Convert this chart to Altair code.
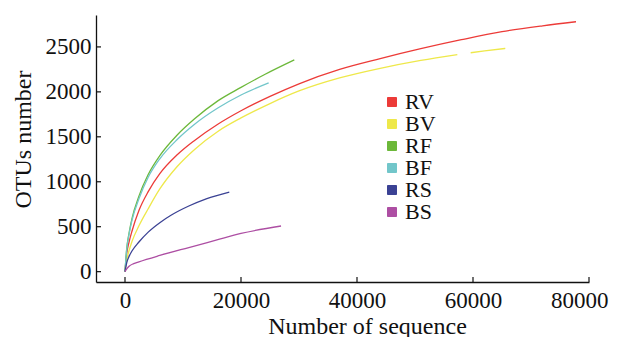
import altair as alt
import pandas as pd

# ---- data ----
series_names = ["RV", "BV", "RF", "BF", "RS", "BS"]
series_colors = ["#ec3b38", "#eee84a", "#6cb83a", "#72c6ca", "#3b4294", "#ad4ea3"]

rv_x = [0, 300, 700, 1200, 2400, 4000, 6000, 9000, 12000, 16000, 20000, 25000, 30000, 37000, 44000, 51000, 58000, 65000, 72000, 77760]
rv_y = [0, 200, 330, 450, 680, 890, 1090, 1300, 1460, 1640, 1790, 1950, 2090, 2250, 2370, 2480, 2580, 2670, 2735, 2780]

bv_x_a = [0, 300, 700, 1200, 2400, 4000, 6000, 9000, 12000, 16000, 20000, 25000, 30000, 37000, 44000, 51000, 57300]
bv_y_a = [0, 130, 235, 335, 510, 700, 920, 1170, 1360, 1560, 1710, 1870, 2010, 2155, 2262, 2350, 2415]
bv_x_b = [59600, 62000, 65570]
bv_y_b = [2435, 2455, 2483]

rf_x = [0, 300, 700, 1200, 2400, 4000, 6000, 9000, 12000, 16000, 20000, 24000, 29190]
rf_y = [0, 260, 430, 590, 840, 1080, 1290, 1520, 1700, 1900, 2050, 2190, 2355]

bf_x = [0, 300, 700, 1200, 2400, 4000, 6000, 9000, 12000, 16000, 20000, 24770]
bf_y = [0, 250, 415, 570, 810, 1050, 1255, 1470, 1640, 1820, 1965, 2100]

rs_x = [0, 300, 700, 1200, 2400, 4000, 6000, 8000, 11000, 14000, 17980]
rs_y = [0, 100, 170, 230, 330, 440, 545, 630, 730, 810, 886]

bs_x = [0, 300, 700, 1500, 2400, 6000, 9600, 11000, 15700, 20000, 26900]
bs_y = [0, 30, 60, 90, 110, 180, 244, 268, 350, 425, 508]

x_ticks = [0, 20000, 40000, 60000, 80000]
y_ticks = [0, 500, 1000, 1500, 2000, 2500]

rows = []
def add(name, seg, xs, ys):
    for a, b in zip(xs, ys):
        rows.append({"series": name, "seg": name + seg, "x": a, "y": b})

add("RV", "1", rv_x, rv_y)
add("BV", "1", bv_x_a, bv_y_a)
add("BV", "2", bv_x_b, bv_y_b)
add("RF", "1", rf_x, rf_y)
add("BF", "1", bf_x, bf_y)
add("RS", "1", rs_x, rs_y)
add("BS", "1", bs_x, bs_y)
df = pd.DataFrame(rows)

W, H = 493, 267
FONT = "Liberation Serif"

xscale = alt.Scale(domain=[-5000, 80000], nice=False, zero=False)
yscale = alt.Scale(domain=[-115, 2855], nice=False, zero=False)
cscale = alt.Scale(domain=series_names, range=series_colors)

x_axis = alt.Axis(title="Number of sequence", values=x_ticks, format="d",
                  grid=False, ticks=False, labelPadding=7,
                  labelFontSize=23, titleFontSize=24, labelFont=FONT, titleFont=FONT,
                  labelColor="#111", titleColor="#111", titleFontWeight="normal",
                  domainColor="#111", domainWidth=1.3,
                  titleX=271, titleY=51, titleBaseline="alphabetic", titleAlign="center",
                  labelFlush=True, labelFlushOffset=19)
y_axis = alt.Axis(title="OTUs number", values=y_ticks, format="d",
                  grid=False, ticks=False, labelPadding=5,
                  labelFontSize=23, titleFontSize=24, labelFont=FONT, titleFont=FONT,
                  labelColor="#111", titleColor="#111", titleFontWeight="normal",
                  domainColor="#111", domainWidth=1.3,
                  titleX=-73, titleY=124, titleAngle=-90, titleBaseline="middle", titleAlign="center",
                  labelFlush=False)

legend_def = alt.Legend(title=None, orient="none", legendX=285, legendY=76,
                        symbolType="square", symbolSize=81, symbolOpacity=1,
                        symbolStrokeColor="#333", symbolStrokeWidth=1,
                        labelFont=FONT, labelFontSize=22, labelColor="#111",
                        labelOffset=2, rowPadding=0)

legend_layer = alt.Chart(df).mark_square(size=0, filled=True).encode(
    x=alt.X("x:Q", scale=xscale, axis=x_axis),
    y=alt.Y("y:Q", scale=yscale, axis=y_axis),
    color=alt.Color("series:N", scale=cscale, legend=legend_def),
)

lines = alt.Chart(df).mark_line(strokeWidth=1.3, interpolate="monotone").encode(
    x=alt.X("x:Q", scale=xscale),
    y=alt.Y("y:Q", scale=yscale),
    color=alt.Color("series:N", scale=cscale),
    detail="seg:N",
    order="x:Q",
)

yt = pd.DataFrame({"y": y_ticks})
xt = pd.DataFrame({"x": x_ticks})

ytick_layer = alt.Chart(yt).mark_rule(color="#111", strokeWidth=1.2).encode(
    x=alt.value(0), x2=alt.value(5),
    y=alt.Y("y:Q", scale=yscale),
)
xtick_layer = alt.Chart(xt).mark_rule(color="#111", strokeWidth=1.2).encode(
    x=alt.X("x:Q", scale=xscale),
    y=alt.value(H), y2=alt.value(H - 5),
)

chart = alt.layer(legend_layer, lines, ytick_layer, xtick_layer).properties(
    width=W, height=H,
    autosize=alt.AutoSizeParams(type="none"),
    padding={"left": 88, "top": 7, "right": 20, "bottom": 55},
).configure(background="white").configure_view(stroke=None)

chart.save("out.html", embed_options={"renderer": "svg", "actions": False})
